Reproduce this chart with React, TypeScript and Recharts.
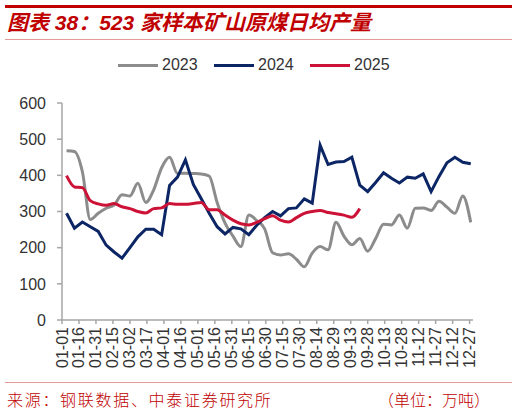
import React from "react";
import { LineChart, Line, XAxis, YAxis } from "recharts";

// weekly observation dates (MM-DD)
const dates = [
  "01-05","01-12","01-19","01-26","02-02","02-09","02-16","02-23","03-02","03-09",
  "03-16","03-23","03-30","04-06","04-13","04-20","04-27","05-04","05-11","05-18",
  "05-25","06-01","06-08","06-15","06-22","06-29","07-06","07-13","07-20","07-27",
  "08-03","08-10","08-17","08-24","08-31","09-07","09-14","09-21","09-28","10-05",
  "10-12","10-19","10-26","11-02","11-09","11-16","11-23","11-30","12-07","12-14",
  "12-21","12-28",
];

const s2023 = [
  468, 466, 410, 278, 295, 309, 318, 346, 343, 378,
  325, 360, 421, 450, 405, 406, 405, 404, 398, 325,
  268, 232, 203, 290, 275, 252, 186, 180, 183, 168,
  147, 185, 203, 194, 270, 232, 208, 225, 190, 225,
  265, 263, 290, 254, 309, 310, 303, 328, 312, 295,
  343, 270,
];

const s2024 = [
  295, 254, 271, 258, 245, 207, 188, 171, 200, 230,
  251, 251, 236, 372, 395, 443, 375, 335, 295, 258,
  238, 256, 252, 236, 262, 283, 300, 288, 308, 310,
  335, 323, 483, 430, 437, 438, 450, 373, 355, 380,
  407, 392, 379, 395, 392, 404, 355, 397, 435, 450,
  436, 432,
];

const s2025 = [
  399, 368, 366, 330, 321, 317, 322, 313, 308, 300,
  296, 308, 310, 322, 320, 320, 322, 325, 305, 305,
  290, 276, 266, 263, 270, 280, 288, 276, 271, 283,
  295, 300, 303, 297, 294, 290, 284, 308,
];

const tickLabels = [
  "01-01","01-16","01-31","02-15","03-02","03-17","04-01","04-16","05-01","05-16",
  "05-31","06-15","06-30","07-15","07-30","08-14","08-29","09-13","09-28","10-13",
  "10-28","11-12","11-27","12-12","12-27",
];

const yTicks = [0, 100, 200, 300, 400, 500, 600];

const monthStart = [0, 31, 59, 90, 120, 151, 181, 212, 243, 273, 304, 334];
const dayOfYear = (md: string) => {
  const [m, d] = md.split("-").map(Number);
  return monthStart[m - 1] + d - 1;
};

const data = dates.map((md, i) => ({
  day: dayOfYear(md),
  y2023: s2023[i],
  y2024: s2024[i],
  y2025: i < s2025.length ? s2025[i] : undefined,
}));

const tickDays = tickLabels.map(dayOfYear);
const labelByDay: Record<number, string> = {};
tickLabels.forEach((l) => (labelByDay[dayOfYear(l)] = l));

const C2023 = "#8C8C8C";
const C2024 = "#0B2565";
const C2025 = "#CC1236";
const AXIS = "#A6A6A6";
const FONT = "Arial, 'Liberation Sans', sans-serif";
const CJK = "'Noto Sans CJK SC', sans-serif";

const XTick = (props: any) => {
  const { x, y, payload } = props;
  return (
    <text
      x={x}
      y={y}
      transform={`rotate(-90, ${x}, ${y})`}
      textAnchor="end"
      dominantBaseline="central"
      fill="#333"
      fontSize={16}
      fontFamily={FONT}
    >
      {labelByDay[payload.value]}
    </text>
  );
};

const legendItems = [
  { label: "2023", color: C2023, x: 118 },
  { label: "2024", color: C2024, x: 214 },
  { label: "2025", color: C2025, x: 310 },
];

export default function App() {
  return (
    <div
      style={{
        position: "absolute",
        left: 0,
        top: 0,
        width: 518,
        height: 413,
        background: "#fff",
        overflow: "hidden",
      }}
    >
      {/* top bar */}
      <div style={{ position: "absolute", left: 5, top: 5, width: 507, height: 2.5, background: "#C00000" }} />
      <div
        style={{
          position: "absolute",
          left: 7,
          top: 10,
          fontFamily: `Arial, ${CJK}`,
          fontStyle: "italic",
          fontWeight: "bold",
          fontSize: 21,
          color: "#C00000",
          whiteSpace: "nowrap",
          lineHeight: "26px",
        }}
      >
        图表 38：523 家样本矿山原煤日均产量
      </div>
      <div style={{ position: "absolute", left: 5, top: 39, width: 507, height: 1, background: "#E59A9A" }} />

      {/* legend */}
      {legendItems.map((it) => (
        <div key={it.label}>
          <div
            style={{
              position: "absolute",
              left: it.x,
              top: 63.5,
              width: 40,
              height: 3,
              background: it.color,
            }}
          />
          <div
            style={{
              position: "absolute",
              left: it.x + 44,
              top: 55,
              fontFamily: FONT,
              fontSize: 16,
              color: "#333",
              lineHeight: "20px",
            }}
          >
            {it.label}
          </div>
        </div>
      ))}

      <div style={{ position: "absolute", left: 0, top: 0 }}>
        <LineChart
          width={518}
          height={413}
          data={data}
          margin={{ top: 103, right: 45, bottom: 33, left: 0 }}
        >
          <XAxis
            type="number"
            dataKey="day"
            domain={[0, 363]}
            ticks={tickDays}
            interval={0}
            allowDataOverflow
            height={60}
            tickSize={4}
            tickMargin={3}
            axisLine={{ stroke: AXIS, strokeWidth: 1.5 }}
            tickLine={{ stroke: AXIS, strokeWidth: 1.5 }}
            tick={<XTick />}
          />
          <YAxis
            type="number"
            domain={[0, 600]}
            ticks={yTicks}
            interval={0}
            width={62}
            tickSize={5}
            tickMargin={11}
            axisLine={{ stroke: AXIS, strokeWidth: 1.5 }}
            tickLine={{ stroke: AXIS, strokeWidth: 1.5 }}
            tick={{ fill: "#333", fontSize: 16, fontFamily: FONT }}
          />
          <Line
            type="monotone"
            dataKey="y2023"
            stroke={C2023}
            strokeWidth={3}
            dot={false}
            isAnimationActive={false}
          />
          <Line
            type="linear"
            dataKey="y2024"
            stroke={C2024}
            strokeWidth={3}
            dot={false}
            isAnimationActive={false}
          />
          <Line
            type="monotone"
            dataKey="y2025"
            stroke={C2025}
            strokeWidth={3}
            dot={false}
            isAnimationActive={false}
          />
        </LineChart>
      </div>

      {/* footer */}
      <div style={{ position: "absolute", left: 5, top: 382, width: 507, height: 1, background: "#E59A9A" }} />
      <div
        style={{
          position: "absolute",
          left: 7,
          top: 389,
          fontFamily: CJK,
          fontSize: 16,
          fontWeight: 300,
          letterSpacing: 1.7,
          color: "#C00000",
          whiteSpace: "nowrap",
          lineHeight: "20px",
        }}
      >
        来源：钢联数据、中泰证券研究所
      </div>
      <div
        style={{
          position: "absolute",
          left: 378,
          top: 389,
          fontFamily: CJK,
          fontSize: 16,
          fontWeight: 300,
          color: "#C00000",
          whiteSpace: "nowrap",
          lineHeight: "20px",
        }}
      >
        （单位：万吨）
      </div>
    </div>
  );
}
